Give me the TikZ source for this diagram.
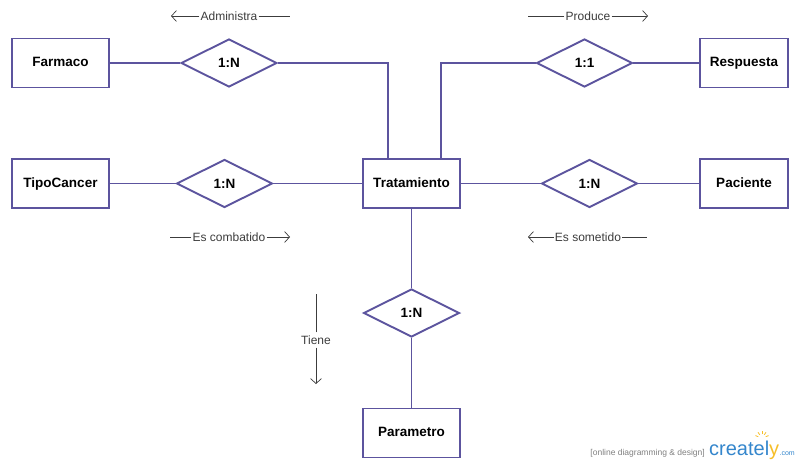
\documentclass[tikz,border=0pt]{standalone}
\usepackage{fontspec}
\setmainfont{Liberation Sans}
\usetikzlibrary{shapes.geometric,arrows.meta,calc}
\definecolor{erline}{RGB}{92,84,158}
\definecolor{labgray}{RGB}{60,60,60}
\definecolor{crblue}{RGB}{52,134,204}
\definecolor{crsun}{RGB}{246,190,40}
\tikzset{
  entity/.style={draw=erline,line width=1.9pt,fill=white,rectangle,minimum width=97pt,minimum height=49pt,inner sep=0pt,text height=9.5pt,text depth=2.5pt,font=\fontsize{13.5}{15}\selectfont\bfseries},
  relation/.style={draw=erline,line width=1.9pt,fill=white,diamond,minimum width=96pt,minimum height=48pt,inner sep=0pt,font=\fontsize{13.5}{15}\selectfont\bfseries},
  link/.style={draw=erline,line width=1.9pt},
  rolelabel/.style={inner sep=1pt,text=labgray,font=\fontsize{12}{14}\selectfont},
  roleline/.style={draw=labgray,line width=0.7pt},
  rolearrow/.style={draw=labgray,line width=0.7pt,-{Straight Barb[length=5pt,width=11pt,line width=0.7pt]}}
}
\begin{document}
\begin{tikzpicture}[x=1pt,y=-1pt]
\useasboundingbox (0,0) rectangle (800,463);

% entities
\node[entity] (farm) at (60.5,63) {Farmaco};
\node[entity,minimum width=88pt] (resp) at (744,63) {Respuesta};
\node[entity] (tipo) at (60.5,183.5) {TipoCancer};
\node[entity] (trat) at (411.5,183.5) {Tratamiento};
\node[entity,minimum width=88pt] (paci) at (744,183.5) {Paciente};
\node[entity] (para) at (411.5,433) {Parametro};

% relationships
\node[relation] (rAdm) at (229,63) {1:N};
\node[relation] (rPro) at (584.5,63) {1:1};
\node[relation] (rCom) at (224.5,183.5) {1:N};
\node[relation] (rSom) at (589.5,183.5) {1:N};
\node[relation] (rTie) at (411.5,313) {1:N};

% attachment columns on top of Tratamiento
\coordinate (kL) at (388,0);
\coordinate (kR) at (441,0);

% connectors
\draw[link] (farm.east) -- (rAdm.west);
\draw[link] (rAdm.east) -| (trat.north -| kL);
\draw[link] (resp.west) -- (rPro.east);
\draw[link] (rPro.west) -| (trat.north -| kR);
\draw[link] (tipo.east) -- (rCom.west);
\draw[link] (rCom.east) -- (trat.west);
\draw[link] (trat.east) -- (rSom.west);
\draw[link] (rSom.east) -- (paci.west);
\draw[link] (trat.south) -- (rTie.north);
\draw[link] (rTie.south) -- (para.north);

% reading direction labels
\node[rolelabel] (lAdm) at (229,16) {Administra};
\coordinate (lAdmL) at (171,16);
\coordinate (lAdmR) at (290,16);
\draw[rolearrow] (lAdm.west) -- (lAdmL);
\draw[roleline] (lAdm.east) -- (lAdmR);

\node[rolelabel] (lPro) at (588,16) {Produce};
\coordinate (lProL) at (528,16);
\coordinate (lProR) at (648,16);
\draw[roleline] (lPro.west) -- (lProL);
\draw[rolearrow] (lPro.east) -- (lProR);

\node[rolelabel] (lCom) at (229,237) {Es combatido};
\coordinate (lComL) at (170,237);
\coordinate (lComR) at (290,237);
\draw[roleline] (lCom.west) -- (lComL);
\draw[rolearrow] (lCom.east) -- (lComR);

\node[rolelabel] (lSom) at (588,237) {Es sometido};
\coordinate (lSomL) at (528,237);
\coordinate (lSomR) at (647,237);
\draw[rolearrow] (lSom.west) -- (lSomL);
\draw[roleline] (lSom.east) -- (lSomR);

\node[rolelabel,inner sep=3pt] (lTie) at (316,340) {Tiene};
\coordinate (lTieT) at (316,294);
\coordinate (lTieB) at (316,384);
\draw[roleline] (lTie.north) -- (lTieT);
\draw[rolearrow] (lTie.south) -- (lTieB);

% footer mark
\node[anchor=base east,inner sep=0pt,text=gray,font=\fontsize{8.5}{10}\selectfont] (wmA) at (705,455) {[online diagramming \& design]};
\node[anchor=base west,inner sep=0pt,font=\fontsize{20}{24}\selectfont] (wmB) at (709,455) {\textcolor{crblue}{createl}\textcolor{crsun}{y}};
\node[anchor=base west,inner sep=0pt,text=crblue,font=\fontsize{7}{9}\selectfont] (wmC) at (wmB.base east) {.com};
\coordinate (sun) at (762,438);
\foreach \a in {20,55,90,125,160}
  \draw[crsun,line width=0.8pt] ($(sun)+(\a:-4)$) -- ($(sun)+(\a:-7)$);
\end{tikzpicture}
\end{document}
